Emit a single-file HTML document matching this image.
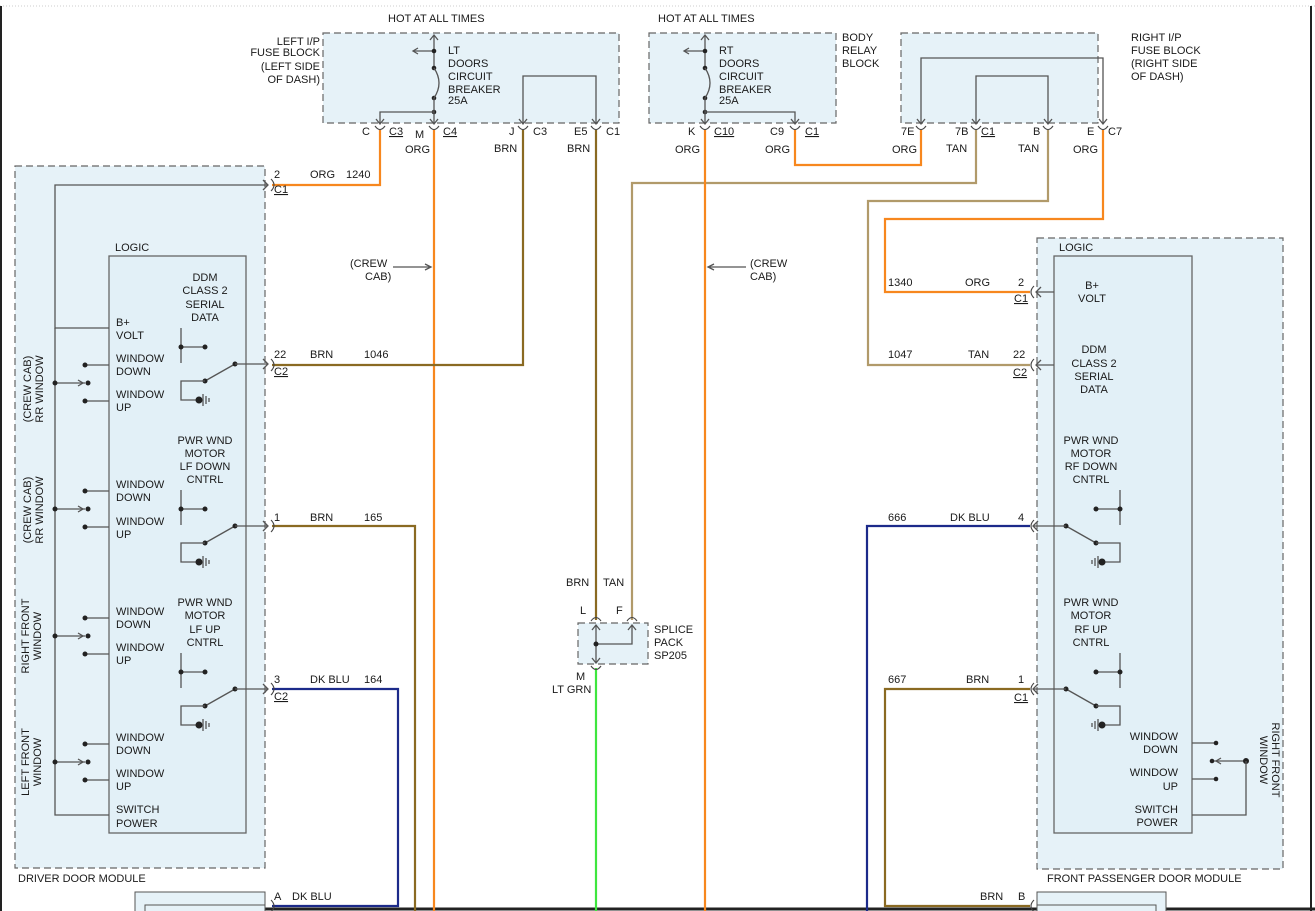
<!DOCTYPE html>
<html><head><meta charset="utf-8"><style>
html,body{margin:0;padding:0;background:#fff;}
svg{display:block;font-family:"Liberation Sans",sans-serif;font-size:11px;}
text{fill:#1a1a1a;}
.d{fill:#e6f2f8;stroke:#666;stroke-width:1.2;stroke-dasharray:7,4;}
.g{fill:none;stroke:#555;stroke-width:1.3;}
.w{fill:none;stroke-width:2.2;}
.o{stroke:#f7871e;}.b{stroke:#8a6a22;}.t{stroke:#b19a6a;}.bl{stroke:#1c2a8a;}.gr{stroke:#3ee63e;}
.c{fill:none;stroke:#444;stroke-width:1.1;}
</style></head><body>
<svg width="1315" height="911" viewBox="0 0 1315 911" xmlns="http://www.w3.org/2000/svg">
<defs>
<g id="sw">
<line class="g" x1="181" y1="328" x2="181" y2="363"/>
<line class="g" x1="181" y1="347" x2="205" y2="347"/>
<circle cx="181" cy="347" r="2.5" fill="#222"/><circle cx="205" cy="347" r="2.5" fill="#222"/>
<line class="g" x1="235" y1="364" x2="205" y2="381"/>
<circle cx="235" cy="364" r="2.5" fill="#222"/><circle cx="205" cy="381" r="2.5" fill="#222"/>
<polyline class="g" points="205,381 181,381 181,400 198,400"/>
<circle cx="199" cy="400" r="3.5" fill="#222"/>
<line class="g" x1="203" y1="394" x2="203" y2="406"/><line class="g" x1="206" y1="396" x2="206" y2="404"/><line class="g" x1="209" y1="398" x2="209" y2="402"/>
<line class="g" x1="235" y1="364" x2="268" y2="364"/>
<polyline class="g" points="263,359 268,364 263,369"/>
</g>
<g id="sel">
<line class="g" x1="85" y1="0" x2="109" y2="0"/>
<line class="g" x1="85" y1="36" x2="109" y2="36"/>
<circle cx="85" cy="0" r="2.5" fill="#222"/><circle cx="85" cy="36" r="2.5" fill="#222"/>
<line class="g" x1="55" y1="18" x2="85" y2="18"/>
<circle cx="55" cy="18" r="2.5" fill="#222"/><circle cx="88" cy="18" r="2.5" fill="#222"/>
<polyline class="g" points="78,15 83,18 78,21"/>
</g>
</defs>
<line x1="0" y1="6" x2="1315" y2="6" stroke="#ccc" stroke-dasharray="1,2"/>
<line x1="1" y1="6" x2="1" y2="911" stroke="#222" stroke-width="2"/>
<line x1="1311" y1="6" x2="1311" y2="911" stroke="#222" stroke-width="2"/>
<line x1="240" y1="909" x2="1315" y2="909" stroke="#222" stroke-width="3"/>

<!-- fuse blocks -->
<rect class="d" x="323" y="33" width="296" height="90"/>
<rect class="d" x="649" y="33" width="187" height="90"/>
<rect class="d" x="901" y="33" width="197" height="90"/>
<text x="388" y="22">HOT AT ALL TIMES</text>
<text x="658" y="22">HOT AT ALL TIMES</text>
<text x="320" y="45" text-anchor="end">LEFT I/P</text>
<text x="320" y="56" text-anchor="end">FUSE BLOCK</text>
<text x="320" y="70" text-anchor="end">(LEFT SIDE</text>
<text x="320" y="83" text-anchor="end">OF DASH)</text>
<text x="448" y="54">LT</text><text x="448" y="67">DOORS</text><text x="448" y="80">CIRCUIT</text><text x="448" y="93">BREAKER</text><text x="448" y="104">25A</text>
<text x="842" y="41">BODY</text><text x="842" y="54">RELAY</text><text x="842" y="67">BLOCK</text>
<text x="719" y="54">RT</text><text x="719" y="67">DOORS</text><text x="719" y="80">CIRCUIT</text><text x="719" y="93">BREAKER</text><text x="719" y="104">25A</text>
<text x="1131" y="41">RIGHT I/P</text><text x="1131" y="54">FUSE BLOCK</text><text x="1131" y="67">(RIGHT SIDE</text><text x="1131" y="80">OF DASH)</text>
<!-- LT breaker internals -->
<line class="g" x1="434" y1="36" x2="434" y2="68"/><polyline class="g" points="430,40 434,35 438,40"/>
<line class="g" x1="434" y1="51" x2="414" y2="51"/><polyline class="g" points="418,48 413,51 418,54"/>
<circle cx="434" cy="51" r="2.3" fill="#222"/><circle cx="434" cy="68" r="2.3" fill="#222"/><circle cx="434" cy="98" r="2.3" fill="#222"/><circle cx="434" cy="112" r="2.3" fill="#222"/>
<path class="g" d="M434,68 Q444,83 434,98"/>
<line class="g" x1="434" y1="98" x2="434" y2="124"/><polyline class="g" points="430,119 434,124 438,119"/>
<polyline class="g" points="434,112 380,112 380,124"/><polyline class="g" points="376,119 380,124 384,119"/>
<polyline class="g" points="523,124 523,76 596,76 596,124"/><polyline class="g" points="519,119 523,124 527,119"/><polyline class="g" points="592,119 596,124 600,119"/>
<!-- RT breaker -->
<line class="g" x1="705" y1="36" x2="705" y2="68"/><polyline class="g" points="701,40 705,35 709,40"/>
<line class="g" x1="705" y1="51" x2="685" y2="51"/><polyline class="g" points="689,48 684,51 689,54"/>
<circle cx="705" cy="51" r="2.3" fill="#222"/><circle cx="705" cy="68" r="2.3" fill="#222"/><circle cx="705" cy="98" r="2.3" fill="#222"/><circle cx="705" cy="112" r="2.3" fill="#222"/>
<path class="g" d="M705,68 Q715,83 705,98"/>
<line class="g" x1="705" y1="98" x2="705" y2="124"/><polyline class="g" points="701,119 705,124 709,119"/>
<polyline class="g" points="705,112 795,112 795,124"/><polyline class="g" points="791,119 795,124 799,119"/>
<!-- right fuse internals -->
<polyline class="g" points="921,124 921,58 1103,58 1103,124"/>
<polyline class="g" points="976,124 976,76 1048,76 1048,124"/>
<polyline class="g" points="917,119 921,124 925,119"/><polyline class="g" points="972,119 976,124 980,119"/><polyline class="g" points="1044,119 1048,124 1052,119"/><polyline class="g" points="1099,119 1103,124 1107,119"/>
<!-- connector cups top -->
<g class="c">
<path d="M375,126 Q380,133 385,126"/><path d="M429,126 Q434,133 439,126"/><path d="M518,126 Q523,133 528,126"/><path d="M591,126 Q596,133 601,126"/>
<path d="M700,126 Q705,133 710,126"/><path d="M790,126 Q795,133 800,126"/><path d="M916,126 Q921,133 926,126"/><path d="M971,126 Q976,133 981,126"/><path d="M1043,126 Q1048,133 1053,126"/><path d="M1098,126 Q1103,133 1108,126"/>
</g>
<text x="362" y="135">C</text><text x="389" y="135" text-decoration="underline">C3</text>
<text x="415" y="138">M</text><text x="443" y="135" text-decoration="underline">C4</text>
<text x="509" y="135">J</text><text x="533" y="135">C3</text>
<text x="574" y="135">E5</text><text x="606" y="135">C1</text>
<text x="688" y="135">K</text><text x="714" y="135" text-decoration="underline">C10</text>
<text x="770" y="135">C9</text><text x="805" y="135" text-decoration="underline">C1</text>
<text x="901" y="135">7E</text><text x="955" y="135">7B</text><text x="981" y="135" text-decoration="underline">C1</text>
<text x="1033" y="135">B</text><text x="1087" y="135">E</text><text x="1108" y="135">C7</text>
<text x="405" y="153">ORG</text><text x="494" y="152">BRN</text><text x="567" y="152">BRN</text>
<text x="675" y="153">ORG</text><text x="765" y="153">ORG</text><text x="892" y="153">ORG</text><text x="946" y="152">TAN</text><text x="1018" y="152">TAN</text><text x="1073" y="153">ORG</text>

<!-- modules -->
<rect class="d" x="15" y="166" width="250" height="702"/>
<rect x="109" y="256" width="137" height="577" fill="#e2f0f7" stroke="#666" stroke-width="1.3"/>
<rect class="d" x="1037" y="238" width="246" height="631"/>
<rect x="1054" y="256" width="138" height="577" fill="#e2f0f7" stroke="#666" stroke-width="1.3"/>
<rect x="135" y="892" width="130" height="25" fill="#e6f2f8" stroke="#555"/>
<rect x="145" y="905" width="120" height="10" fill="#e6f2f8" stroke="#555"/>
<rect x="1037" y="892" width="129" height="25" fill="#e6f2f8" stroke="#555"/>
<rect x="1037" y="905" width="119" height="10" fill="#e6f2f8" stroke="#555"/>
<text x="18" y="882">DRIVER DOOR MODULE</text>
<text x="1047" y="882">FRONT PASSENGER DOOR MODULE</text>
<text x="115" y="251">LOGIC</text>
<text x="1059" y="251">LOGIC</text>

<!-- wires -->
<polyline class="w o" points="380,130 380,185 272,185"/>
<line class="w o" x1="434" y1="130" x2="434" y2="911"/>
<polyline class="w b" points="523,130 523,365 272,365"/>
<polyline class="w b" points="596,130 596,620"/>
<line class="w gr" x1="596" y1="668" x2="596" y2="911"/>
<polyline class="w t" points="632,620 632,183 976,183 976,130"/>
<line class="w o" x1="705" y1="130" x2="705" y2="911"/>
<polyline class="w o" points="795,130 795,165 921,165 921,130"/>
<polyline class="w t" points="1048,130 1048,201 868,201 868,365 1030,365"/>
<polyline class="w o" points="1103,130 1103,219 885,219 885,292 1030,292"/>
<polyline class="w b" points="272,526 415,526 415,911"/>
<polyline class="w bl" points="272,689 398,689 398,906 272,906"/>
<polyline class="w bl" points="1030,526 867,526 867,911"/>
<polyline class="w b" points="1030,689 885,689 885,906 1030,906"/>

<!-- crew cab arrows -->
<text x="350" y="267">(CREW</text><text x="365" y="280">CAB)</text>
<line class="g" x1="393" y1="267" x2="430" y2="267"/><polyline class="g" points="425,264 431,267 425,270"/>
<text x="750" y="267">(CREW</text><text x="750" y="280">CAB)</text>
<line class="g" x1="746" y1="267" x2="709" y2="267"/><polyline class="g" points="714,264 708,267 714,270"/>

<!-- splice -->
<rect class="d" x="578" y="623" width="70" height="41"/>
<polyline class="g" points="596,626 596,662"/><polyline class="g" points="592,630 596,625 600,630"/><polyline class="g" points="592,658 596,663 600,658"/>
<polyline class="g" points="596,644 632,644 632,626"/><polyline class="g" points="628,630 632,625 636,630"/>
<circle cx="596" cy="644" r="2.5" fill="#222"/>
<path class="c" d="M591,621 Q596,614 601,621"/><path class="c" d="M627,621 Q632,614 637,621"/><path class="c" d="M591,666 Q596,673 601,666"/>
<text x="654" y="633">SPLICE</text><text x="654" y="646">PACK</text><text x="654" y="659">SP205</text>
<text x="566" y="586">BRN</text><text x="603" y="586">TAN</text>
<text x="580" y="614">L</text><text x="616" y="614">F</text>
<text x="576" y="680">M</text><text x="552" y="693">LT GRN</text>

<!-- driver module internals -->
<polyline class="g" points="268,185 55,185 55,328 109,328"/>
<polyline class="g" points="263,180 268,185 263,190"/>
<polyline class="g" points="55,328 55,815 109,815"/>
<use href="#sel" y="365"/><use href="#sel" y="491"/><use href="#sel" y="618"/><use href="#sel" y="744"/>
<use href="#sw"/><use href="#sw" y="162"/><use href="#sw" y="325"/>
<g class="c"><path d="M271,179 Q277,185 271,191"/><path d="M271,359 Q277,365 271,371"/><path d="M271,520 Q277,526 271,532"/><path d="M271,683 Q277,689 271,695"/><path d="M271,900 Q277,906 271,912"/></g>
<text x="274" y="178">2</text><text x="310" y="178">ORG</text><text x="346" y="178">1240</text><text x="274" y="193" text-decoration="underline">C1</text>
<text x="274" y="358">22</text><text x="310" y="358">BRN</text><text x="364" y="358">1046</text><text x="274" y="375" text-decoration="underline">C2</text>
<text x="274" y="521">1</text><text x="310" y="521">BRN</text><text x="364" y="521">165</text>
<text x="274" y="683">3</text><text x="310" y="683">DK BLU</text><text x="364" y="683">164</text><text x="274" y="700" text-decoration="underline">C2</text>
<text x="274" y="900">A</text><text x="292" y="900">DK BLU</text>
<g text-anchor="middle">
<text x="205" y="281">DDM</text><text x="205" y="294">CLASS 2</text><text x="205" y="308">SERIAL</text><text x="205" y="321">DATA</text>
<text x="205" y="444">PWR WND</text><text x="205" y="457">MOTOR</text><text x="205" y="470">LF DOWN</text><text x="205" y="483">CNTRL</text>
<text x="205" y="606">PWR WND</text><text x="205" y="619">MOTOR</text><text x="205" y="633">LF UP</text><text x="205" y="646">CNTRL</text>
</g>
<text x="116" y="326">B+</text><text x="116" y="339">VOLT</text>
<text x="116" y="362">WINDOW</text><text x="116" y="375">DOWN</text><text x="116" y="398">WINDOW</text><text x="116" y="411">UP</text>
<text x="116" y="488">WINDOW</text><text x="116" y="501">DOWN</text><text x="116" y="525">WINDOW</text><text x="116" y="538">UP</text>
<text x="116" y="615">WINDOW</text><text x="116" y="628">DOWN</text><text x="116" y="651">WINDOW</text><text x="116" y="664">UP</text>
<text x="116" y="741">WINDOW</text><text x="116" y="754">DOWN</text><text x="116" y="777">WINDOW</text><text x="116" y="790">UP</text>
<text x="116" y="813">SWITCH</text><text x="116" y="827">POWER</text>
<g text-anchor="middle">
<text transform="translate(31,389) rotate(-90)">(CREW CAB)</text><text transform="translate(43,389) rotate(-90)">RR WINDOW</text>
<text transform="translate(31,510) rotate(-90)">(CREW CAB)</text><text transform="translate(43,510) rotate(-90)">RR WINDOW</text>
<text transform="translate(29,636) rotate(-90)">RIGHT FRONT</text><text transform="translate(41,636) rotate(-90)">WINDOW</text>
<text transform="translate(29,762) rotate(-90)">LEFT FRONT</text><text transform="translate(41,762) rotate(-90)">WINDOW</text>
<text transform="translate(1272,760) rotate(90)">RIGHT FRONT</text><text transform="translate(1260,760) rotate(90)">WINDOW</text>
</g>

<!-- passenger internals -->
<line class="g" x1="1054" y1="292" x2="1036" y2="292"/><polyline class="g" points="1041,287 1036,292 1041,297"/>
<line class="g" x1="1054" y1="365" x2="1036" y2="365"/><polyline class="g" points="1041,360 1036,365 1041,370"/>
<g transform="translate(1301,0) scale(-1,1)"><use href="#sw" y="162"/><use href="#sw" y="325"/></g>
<g class="c"><path d="M1034,286 Q1028,292 1034,298"/><path d="M1034,359 Q1028,365 1034,371"/><path d="M1034,520 Q1028,526 1034,532"/><path d="M1034,683 Q1028,689 1034,695"/><path d="M1034,900 Q1028,906 1034,912"/></g>
<polyline class="g" points="1192,743 1216,743"/><polyline class="g" points="1192,779 1216,779"/>
<circle cx="1216" cy="743" r="2.3" fill="#222"/><circle cx="1216" cy="779" r="2.3" fill="#222"/><circle cx="1212" cy="761" r="2.3" fill="#222"/>
<polyline class="g" points="1246,761 1214,761"/><polyline class="g" points="1221,758 1216,761 1221,764"/>
<circle cx="1246" cy="761" r="3" fill="#222"/>
<polyline class="g" points="1246,761 1246,815 1192,815"/>
<text x="888" y="286">1340</text><text x="965" y="286">ORG</text><text x="1018" y="286">2</text><text x="1014" y="302" text-decoration="underline">C1</text>
<text x="888" y="358">1047</text><text x="968" y="358">TAN</text><text x="1013" y="358">22</text><text x="1013" y="376" text-decoration="underline">C2</text>
<text x="888" y="521">666</text><text x="950" y="521">DK BLU</text><text x="1018" y="521">4</text>
<text x="888" y="683">667</text><text x="966" y="683">BRN</text><text x="1018" y="683">1</text><text x="1014" y="701" text-decoration="underline">C1</text>
<text x="980" y="900">BRN</text><text x="1018" y="900">B</text>
<g text-anchor="middle">
<text x="1092" y="289">B+</text><text x="1092" y="302">VOLT</text>
<text x="1094" y="353">DDM</text><text x="1094" y="367">CLASS 2</text><text x="1094" y="380">SERIAL</text><text x="1094" y="393">DATA</text>
<text x="1091" y="444">PWR WND</text><text x="1091" y="457">MOTOR</text><text x="1091" y="470">RF DOWN</text><text x="1091" y="483">CNTRL</text>
<text x="1091" y="606">PWR WND</text><text x="1091" y="619">MOTOR</text><text x="1091" y="633">RF UP</text><text x="1091" y="646">CNTRL</text>
</g>
<g text-anchor="end">
<text x="1178" y="740">WINDOW</text><text x="1178" y="753">DOWN</text><text x="1178" y="776">WINDOW</text><text x="1178" y="790">UP</text>
<text x="1178" y="813">SWITCH</text><text x="1178" y="826">POWER</text>
</g>
</svg>
</body></html>
